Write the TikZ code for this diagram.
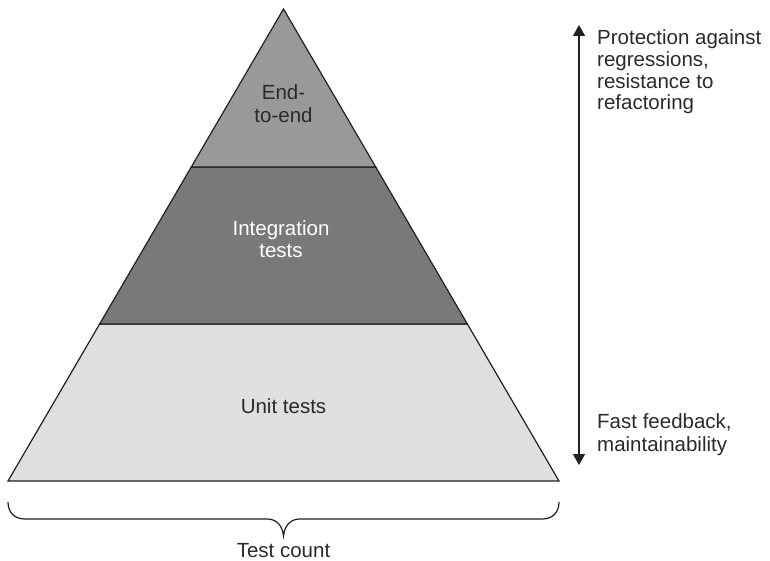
\documentclass[tikz,border=0pt]{standalone}
\usepackage{fontspec}
\setmainfont{Liberation Sans}
\usetikzlibrary{calc,arrows.meta}
\definecolor{topgray}{HTML}{98999B}
\definecolor{midgray}{HTML}{7B787B}
\definecolor{lowgray}{HTML}{DEDFDE}
\definecolor{inkc}{HTML}{231F20}
\definecolor{txtc}{HTML}{2A2A2A}
\tikzset{
  layer/.style={draw=inkc, line width=1.2pt, line join=miter},
  lbl/.style={anchor=base, inner sep=0pt, font=\fontsize{20.5pt}{22pt}\selectfont, text=txtc},
  wlbl/.style={lbl, text=white},
  side/.style={lbl, anchor=base west},
  axisarrow/.style={draw=inkc, line width=1.3pt, {Triangle[width=12pt,length=11pt]}-{Triangle[width=12pt,length=11pt]}},
  bracec/.style={draw=inkc, line width=1.2pt}
}
\begin{document}
\begin{tikzpicture}[x=1pt,y=-1pt]
\useasboundingbox (0,0) rectangle (770,561);
\coordinate (apex) at (283.5,9);
\coordinate (bl) at (8,481);
\coordinate (br) at (559,481);
\coordinate (l1) at ($(apex)!0.3347!(bl)$);
\coordinate (r1) at ($(apex)!0.3347!(br)$);
\coordinate (l2) at ($(apex)!0.6674!(bl)$);
\coordinate (r2) at ($(apex)!0.6674!(br)$);
% layers
\path[layer, fill=lowgray] (l2) -- (r2) -- (br) -- (bl) -- cycle;
\path[layer, fill=midgray] (l1) -- (r1) -- (r2) -- (l2) -- cycle;
\path[layer, fill=topgray] (apex) -- (r1) -- (l1) -- cycle;
% labels
\node[lbl] (e1) at (283.5,100) {End-};
\node[lbl] (e2) at (283.5,123) {to-end};
\node[wlbl] (i1) at (281,236) {Integration};
\node[wlbl] (i2) at (281,258) {tests};
\node[lbl] (u1) at (283.5,413) {Unit tests};
% side arrow
\coordinate (atop) at (579,25);
\coordinate (abot) at (579,465);
\draw[axisarrow] (abot) -- (atop);
\node[side] (p1) at (597,45) {Protection against};
\node[side] (p2) at (597,66.7) {regressions,};
\node[side] (p3) at (597,88.4) {resistance to};
\node[side] (p4) at (597,110) {refactoring};
\node[side] (f1) at (597,428) {Fast feedback,};
\node[side] (f2) at (597,451) {maintainability};
% brace
\coordinate (bs) at (8,502);
\coordinate (btip) at (283.5,536);
\coordinate (be) at (559,502);
\draw[bracec] (bs) .. controls (8,512) and (14,519) .. (25,519) -- (267,519)
  .. controls (277,519) and (282.5,526) .. (btip)
  .. controls (284.5,526) and (290,519) .. (300,519) -- (542,519)
  .. controls (553,519) and (559,512) .. (be);
\node[lbl] (tc) at (283.5,557) {Test count};
\end{tikzpicture}
\end{document}
